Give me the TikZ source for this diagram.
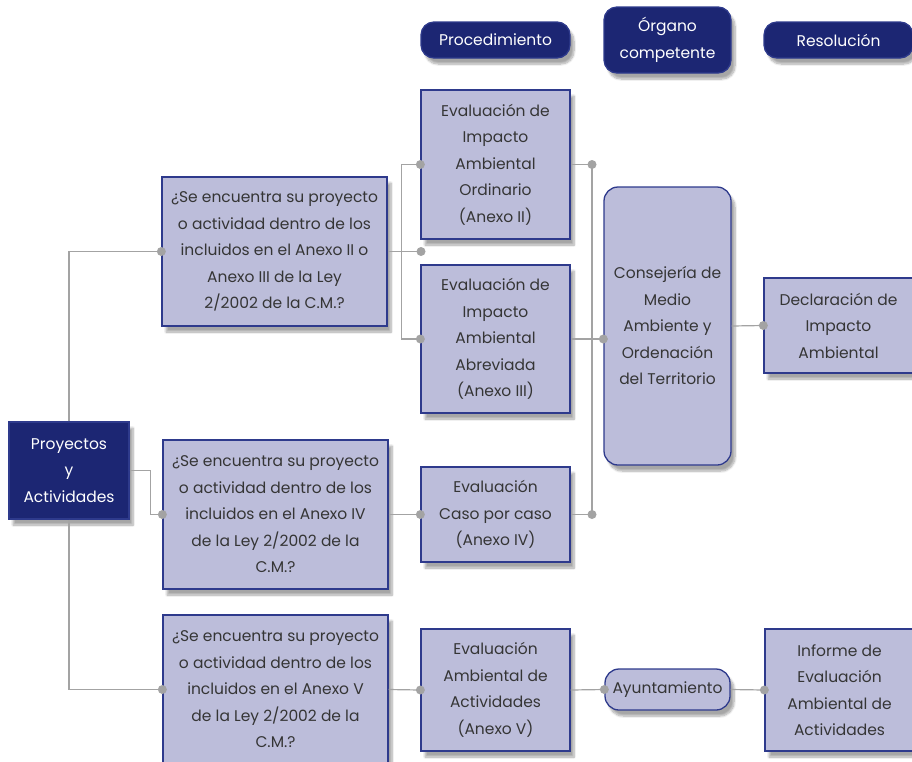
\documentclass[tikz,border=0pt]{standalone}
\usepackage{fontspec}
\setmainfont{Poppins}
\usepackage{tikz}
\usetikzlibrary{shadows.blur}

\definecolor{navy}{HTML}{1C2673}
\definecolor{lavender}{HTML}{BCBDDA}
\definecolor{boxline}{HTML}{2E3A8C}
\definecolor{linkgray}{HTML}{A3A3A3}
\definecolor{textgray}{HTML}{353535}

\tikzset{
  shade/.style={blur shadow={shadow xshift=4pt, shadow yshift=-6pt, shadow blur steps=8, shadow opacity=35}},
  qbox/.style={draw=boxline, line width=1.3pt, fill=lavender, text=textgray, align=center, inner sep=0pt, shade,
    font=\fontsize{15.5}{26.5}\selectfont},
  darkbox/.style={qbox, fill=navy, text=white},
  headbox/.style={darkbox, rounded corners=13pt},
  link/.style={draw=linkgray, line width=1.2pt}
}

\begin{document}
\begin{tikzpicture}[x=1pt, y=-1pt]
\useasboundingbox (0,0) rectangle (912,761);

% headers
\node[headbox, minimum width=149, minimum height=36] (proc) at (495.5,40) {Procedimiento};
\node[headbox, minimum width=127, minimum height=66] (org) at (667.5,40) {Órgano\\competente};
\node[headbox, minimum width=149, minimum height=36] (res) at (838.5,40) {Resolución};

% left column
\node[darkbox, minimum width=120, minimum height=97] (proy) at (69,470.5) {Proyectos\\y\\Actividades};
\node[qbox, minimum width=225, minimum height=149] (q1) at (274.5,251.5) {¿Se encuentra su proyecto\\o actividad dentro de los\\incluidos en el Anexo II o\\Anexo III de la Ley\\2/2002 de la C.M.?};
\node[qbox, minimum width=225, minimum height=149] (q2) at (275.5,514.5) {¿Se encuentra su proyecto\\o actividad dentro de los\\incluidos en el Anexo IV\\de la Ley 2/2002 de la\\C.M.?};
\node[qbox, minimum width=225, minimum height=149] (q3) at (275.5,689.5) {¿Se encuentra su proyecto\\o actividad dentro de los\\incluidos en el Anexo V\\de la Ley 2/2002 de la\\C.M.?};

% procedimiento
\node[qbox, minimum width=149, minimum height=149] (ord) at (495.5,164.5) {Evaluación de\\Impacto\\Ambiental\\Ordinario\\(Anexo II)};
\node[qbox, minimum width=149, minimum height=148] (abr) at (495.5,339) {Evaluación de\\Impacto\\Ambiental\\Abreviada\\(Anexo III)};
\node[qbox, minimum width=149, minimum height=95] (caso) at (495.5,514.5) {Evaluación\\Caso por caso\\(Anexo IV)};
\node[qbox, minimum width=149, minimum height=122] (eamb) at (495.5,690) {Evaluación\\Ambiental de\\Actividades\\(Anexo V)};

% organo y resolucion
\node[qbox, rounded corners=14pt, minimum width=127, minimum height=278] (cons) at (667.5,326) {Consejería de\\Medio\\Ambiente y\\Ordenación\\del Territorio};
\node[qbox, rounded corners=14pt, minimum width=125, minimum height=41] (ayun) at (667.5,689.5) {Ayuntamiento};
\node[qbox, minimum width=149, minimum height=95] (decl) at (838.5,325.5) {Declaración de\\Impacto\\Ambiental};
\node[qbox, minimum width=149, minimum height=122] (inf) at (839.5,690) {Informe de\\Evaluación\\Ambiental de\\Actividades};

\coordinate (q1end) at (421,251.5);
\coordinate (jtop) at (592,164.5);
\coordinate (jbot) at (592,514.5);
\coordinate (consin) at (abr.east -| cons.west);

% connectors
\path[link] (proy.north) |- (q1.west);
\path[link] (proy.east) -- ++(21,0) |- (q2.west);
\path[link] (proy.south) |- (q3.west);
\path[link] (q1.east) -- (q1end);
\path[link] (ord.west) -- ++(-19,0) |- (abr.west);
\path[link] (ord.east) -- (jtop) -- (jbot);
\path[link] (caso.east) -- (jbot);
\path[link] (abr.east) -- (consin);
\path[link] (cons.east) -- (decl.west);
\path[link] (q2.east) -- (caso.west);
\path[link] (q3.east) -- (eamb.west);
\path[link] (eamb.east) -- (ayun.west);
\path[link] (ayun.east) -- (inf.west);

\foreach \p in {q1.west, q2.west, q3.west, q1end, ord.west, abr.west, jtop, jbot, consin, decl.west, caso.west, eamb.west, ayun.west, inf.west}
  \fill[linkgray] (\p) circle (4.5);
\end{tikzpicture}
\end{document}
